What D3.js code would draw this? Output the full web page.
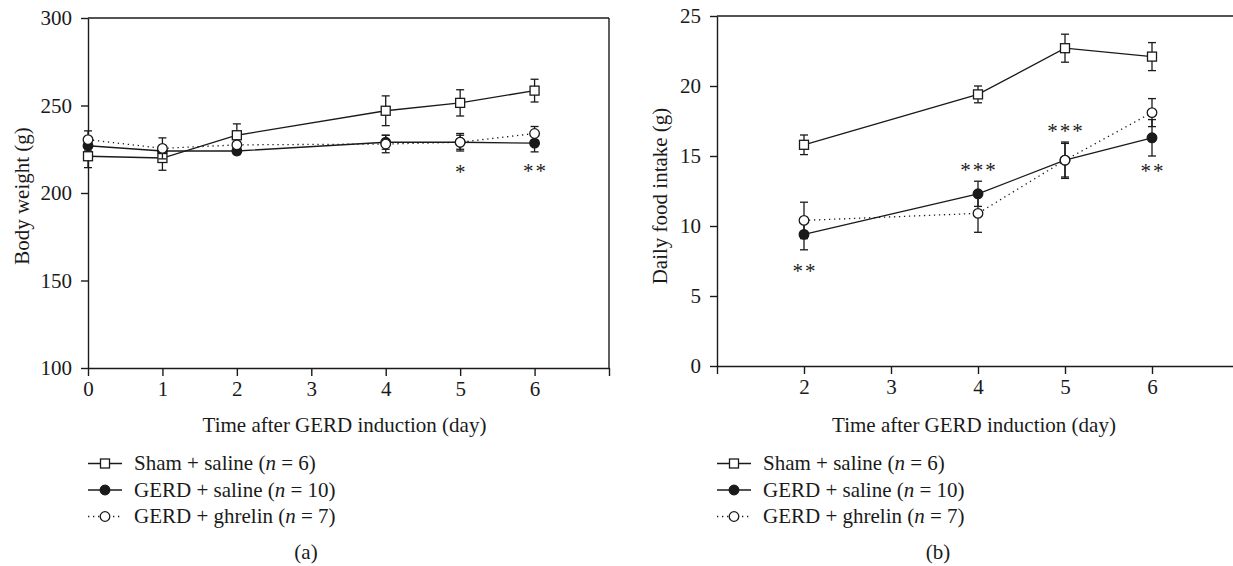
<!DOCTYPE html>
<html>
<head>
<meta charset="utf-8">
<script src="https://cdn.jsdelivr.net/npm/d3@7"></script>
<style>
    body { margin: 0; background: #fff; }
    svg text { font-family: "Liberation Serif", "Times New Roman", serif; fill: #1a1a1a; }
</style>
</head>
<body>
<script>
// panel (a) body weight
const daysA = [0, 1, 2, 4, 5, 6];
const shamA = [221, 220, 233, 247, 251.5, 258.5];
const shamAErr = [6.5, 7, 6.5, 8.5, 7.5, 6.5];
const salineA = [227, 224, 224, 229, 229, 228.5];
const salineAErr = [3, 3, 2, 4, 5, 5];
const ghrelinA = [230.5, 225.5, 227.5, 228, 229, 234];
const ghrelinAErr = [5, 6, 2, 5, 4, 4];
const starsA = [{day: 5, y: 214, txt: "*"}, {day: 6, y: 214.5, txt: "**"}];

// panel (b) daily food intake
const daysB = [2, 4, 5, 6];
const shamB = [15.8, 19.4, 22.7, 22.1];
const shamBErr = [0.7, 0.6, 1.0, 1.0];
const salineB = [9.4, 12.3, 14.7, 16.3];
const salineBErr = [1.1, 0.9, 1.3, 1.3];
const ghrelinB = [10.4, 10.9, 14.7, 18.1];
const ghrelinBErr = [1.3, 1.35, 1.2, 1.0];
const starsB = [{day: 2, y: 7.0, txt: "**"}, {day: 4, y: 14.2, txt: "***"},
                {day: 5, y: 17.0, txt: "***"}, {day: 6, y: 14.15, txt: "**"}];

const groups = ["Sham + saline", "GERD + saline", "GERD + ghrelin"];
const groupN = [6, 10, 7];

const W = 1233, H = 566;
const FS = "21px";
const svg = d3.select("body").append("svg").attr("width", W).attr("height", H);

function drawPanel(opt){
    const g = svg.append("g");
    const x = d3.scaleLinear().domain(opt.xDom).range(opt.xRange);
    const y = d3.scaleLinear().domain(opt.yDom).range([opt.yBottom, opt.yTop]);

    // frame (top and right)
    g.append("line")
        .attr("x1", x(opt.xDom[0])).attr("x2", x(opt.xDom[1]))
        .attr("y1", y(opt.yDom[1])).attr("y2", y(opt.yDom[1]))
        .attr("stroke", "#1a1a1a").attr("stroke-width", 1.4);
    g.append("line")
        .attr("x1", x(opt.xDom[1])).attr("x2", x(opt.xDom[1]))
        .attr("y1", y(opt.yDom[1])).attr("y2", y(opt.yDom[0]))
        .attr("stroke", "#1a1a1a").attr("stroke-width", 1.4);

    const xAxis = g.append("g")
        .attr("transform", "translate(0," + opt.yBottom + ")")
        .call(d3.axisBottom(x).tickValues(opt.xTicks).tickSize(8).tickSizeOuter(0).tickPadding(5)
            .tickFormat(d => opt.xLabels.includes(d) ? d : ""));
    const yAxis = g.append("g")
        .attr("transform", "translate(" + opt.xRange[0] + ",0)")
        .call(d3.axisLeft(y).tickValues(opt.yTicks).tickSize(7).tickSizeOuter(0).tickPadding(9));
    [xAxis, yAxis].forEach(a => {
        a.selectAll("path, line").attr("stroke", "#1a1a1a").attr("stroke-width", 1.4);
        a.selectAll("text").style("font-size", FS).attr("fill", "#1a1a1a");
    });

    // axis titles
    g.append("text")
        .attr("x", (x(opt.xDom[0]) + x(opt.xDom[1])) / 2 - 4)
        .attr("y", 432)
        .attr("text-anchor", "middle")
        .style("font-size", FS)
        .text("Time after GERD induction (day)");
    g.append("text")
        .attr("transform", "translate(" + opt.yTitleX + ",196) rotate(-90)")
        .attr("text-anchor", "middle")
        .attr("dy", "0.35em")
        .style("font-size", FS)
        .text(opt.yTitle);

    const line = d3.line().x(d => x(d.day)).y(d => y(d.v));
    const series = [
        {vals: opt.saline, err: opt.salineErr, marker: "filled", dash: null},
        {vals: opt.sham, err: opt.shamErr, marker: "square", dash: null},
        {vals: opt.ghrelin, err: opt.ghrelinErr, marker: "open", dash: "1.3,3.7"}
    ];

    series.forEach(s => {
        const pts = opt.days.map((d, i) => ({day: d, v: s.vals[i], e: s.err[i]}));
        const sg = g.append("g");
        sg.append("path")
            .datum(pts)
            .attr("d", line)
            .attr("fill", "none")
            .attr("stroke", "#1a1a1a")
            .attr("stroke-width", 1.3)
            .attr("stroke-dasharray", s.dash);
        // error bars
        const eb = sg.selectAll(".eb").data(pts).enter().append("g");
        eb.append("line")
            .attr("x1", d => x(d.day)).attr("x2", d => x(d.day))
            .attr("y1", d => y(d.v - d.e)).attr("y2", d => y(d.v + d.e))
            .attr("stroke", "#1a1a1a").attr("stroke-width", 1.3);
        [-1, 1].forEach(sign => {
            eb.append("line")
                .attr("x1", d => x(d.day) - 4).attr("x2", d => x(d.day) + 4)
                .attr("y1", d => y(d.v + sign * d.e)).attr("y2", d => y(d.v + sign * d.e))
                .attr("stroke", "#1a1a1a").attr("stroke-width", 1.3);
        });
        drawMarkers(sg, pts.map(p => [x(p.day), y(p.v)]), s.marker);
    });

    // significance marks
    g.selectAll(".star").data(opt.stars).enter().append("text")
        .attr("x", d => x(d.day) + 1)
        .attr("y", d => y(d.y) + 10)
        .attr("text-anchor", "middle")
        .style("font-size", FS)
        .style("letter-spacing", "2px")
        .text(d => d.txt);

    // legend
    const lg = g.append("g");
    const markers = ["square", "filled", "open"];
    groups.forEach((name, i) => {
        const by = 470 + i * 26.5;
        const cy = by - 6.5;
        lg.append("line")
            .attr("x1", opt.legendX - 17).attr("x2", opt.legendX + 17)
            .attr("y1", cy).attr("y2", cy)
            .attr("stroke", "#1a1a1a").attr("stroke-width", 1.3)
            .attr("stroke-dasharray", i === 2 ? "1.3,3.7" : null);
        drawMarkers(lg, [[opt.legendX, cy]], markers[i]);
        const t = lg.append("text")
            .attr("x", opt.legendX + 29)
            .attr("y", by)
            .style("font-size", FS);
        t.append("tspan").text(name + " (");
        t.append("tspan").style("font-style", "italic").text("n");
        t.append("tspan").text(" = " + groupN[i] + ")");
    });

    g.append("text")
        .attr("x", opt.captionX)
        .attr("y", 559)
        .attr("text-anchor", "middle")
        .style("font-size", FS)
        .text(opt.caption);
}

function drawMarkers(sel, pts, type){
    if (type === "square") {
        sel.selectAll(null).data(pts).enter().append("rect")
            .attr("x", d => d[0] - 4.5).attr("y", d => d[1] - 4.5)
            .attr("width", 9).attr("height", 9)
            .attr("fill", "#fff").attr("stroke", "#1a1a1a").attr("stroke-width", 1.3);
    } else {
        sel.selectAll(null).data(pts).enter().append("circle")
            .attr("cx", d => d[0]).attr("cy", d => d[1])
            .attr("r", 4.8)
            .attr("fill", type === "filled" ? "#1a1a1a" : "#fff")
            .attr("stroke", "#1a1a1a").attr("stroke-width", 1.3);
    }
}

drawPanel({
    xDom: [0, 7], xRange: [88, 609], xTicks: [0, 1, 2, 3, 4, 5, 6, 7], xLabels: [0, 1, 2, 3, 4, 5, 6],
    yDom: [100, 300], yTop: 18, yBottom: 368, yTicks: [100, 150, 200, 250, 300],
    yTitle: "Body weight (g)", yTitleX: 22,
    days: daysA, sham: shamA, shamErr: shamAErr, saline: salineA, salineErr: salineAErr,
    ghrelin: ghrelinA, ghrelinErr: ghrelinAErr, stars: starsA,
    legendX: 105, caption: "(a)", captionX: 306
});

drawPanel({
    xDom: [1, 7], xRange: [717, 1239], xTicks: [1, 2, 3, 4, 5, 6, 7], xLabels: [2, 3, 4, 5, 6],
    yDom: [0, 25], yTop: 16, yBottom: 366, yTicks: [0, 5, 10, 15, 20, 25],
    yTitle: "Daily food intake (g)", yTitleX: 660,
    days: daysB, sham: shamB, shamErr: shamBErr, saline: salineB, salineErr: salineBErr,
    ghrelin: ghrelinB, ghrelinErr: ghrelinBErr, stars: starsB,
    legendX: 734, caption: "(b)", captionX: 938
});
</script>
</body>
</html>
